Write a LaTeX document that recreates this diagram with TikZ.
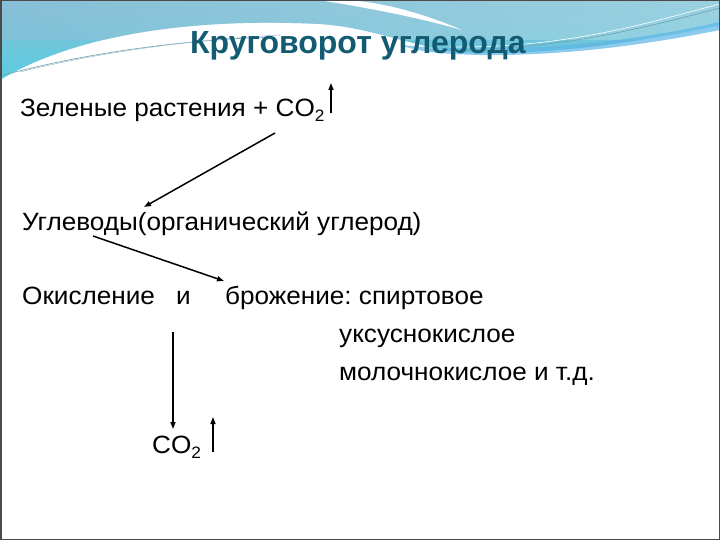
\documentclass[tikz,border=0pt]{standalone}
\usepackage{fontspec}
\setmainfont{Liberation Sans}
\newfontfamily\bodyfont[FakeStretch=1.045]{Liberation Sans}
\usetikzlibrary{arrows.meta}
\definecolor{titleC}{HTML}{135B72}
\definecolor{bluL}{HTML}{88BFD6}
\definecolor{bluR}{HTML}{A9DCE7}
\definecolor{cyanC}{HTML}{58CCE0}
\definecolor{lineC}{HTML}{6E9FB4}
\definecolor{frameC}{HTML}{4A4A4A}
\frenchspacing
\tikzset{
  body/.style={anchor=base west, inner sep=0pt, font=\bodyfont\fontsize{25}{29}\selectfont},
  ttl/.style={anchor=base west, inner sep=0pt, font=\fontsize{32}{36}\selectfont\bfseries, text=titleC},
  arr/.style={line width=1.5pt, -{Triangle[length=7pt,width=5pt]}},
}
\newcommand{\subtwo}{\raisebox{-5pt}{\fontsize{16.5}{16.5}\selectfont 2}}
\begin{document}
\begin{tikzpicture}[x=1pt,y=-1pt]
\useasboundingbox (0,0) rectangle (720,540);
\fill[white] (0,0) rectangle (720,540);
% header wave
\begin{scope}
\clip (0,0) -- (720,0) -- (720,25) .. controls (640,42) and (560,54) .. (480,53)
  .. controls (420,52) and (380,28) .. (320,24) .. controls (200,18) and (80,32) .. (0,80) -- cycle;
\shade[top color=bluL, bottom color=cyanC] (0,0) rectangle (720,82);
\shade[left color=bluL, right color=bluR, opacity=0.6] (0,0) rectangle (720,40);
\end{scope}
% cyan band on right
\fill[cyanC!85!blue!90, opacity=0.7] (400,45) .. controls (520,56) and (640,40) .. (720,22)
  -- (720,30) .. controls (640,46) and (560,56) .. (480,55) .. controls (440,54) and (420,52) .. (400,45) -- cycle;
% white streak
\fill[white] (318,0) .. controls (370,8) and (420,18) .. (462,30)
  .. controls (425,14) and (385,3) .. (350,0) -- cycle;
% thin lines
\draw[lineC, line width=0.6pt] (0,76) .. controls (80,54) and (180,40) .. (270,37);
\draw[lineC!70, line width=0.5pt] (20,72) .. controls (100,52) and (190,40) .. (280,35);
\draw[lineC, line width=0.6pt] (430,50) .. controls (560,52) and (650,26) .. (720,8);
\draw[white, line width=0.6pt] (450,47) .. controls (570,48) and (650,22) .. (720,4);
% frame
\draw[frameC, line width=1.5pt] (0.75,0.75) rectangle (719.25,539.25);

% title
\node[ttl] (title) at (190,54) {Круговорот углерода};

% texts
\node[body] (green) at (20,117) {Зеленые растения + CO\subtwo};
\node[body] (carb) at (22,230) {Углеводы(органический углерод)};
\node[body] (oxid) at (22,304) {Окисление};
\node[body] (and) at (176,304) {и};
\node[body] (ferm) at (225,304) {брожение: спиртовое};
\node[body] (acet) at (339,342) {уксуснокислое};
\node[body] (lact) at (339,380) {молочнокислое и т.д.};
\node[body] (co2) at (152,453) {CO\subtwo};

% arrow end points
\coordinate (u1a) at (331,113);
\coordinate (u1b) at (331,83);
\coordinate (d1a) at (275,133);
\coordinate (d1b) at (144,207);
\coordinate (d2a) at (93,236);
\coordinate (d2b) at (224,281);
\coordinate (v1a) at (173,332);
\coordinate (v1b) at (173,429);
\coordinate (u2a) at (213,452);
\coordinate (u2b) at (213,417);

\draw[arr] (u1a) -- (u1b);
\draw[arr] (d1a) -- (d1b);
\draw[arr] (d2a) -- (d2b);
\draw[arr] (v1a) -- (v1b);
\draw[arr] (u2a) -- (u2b);
\end{tikzpicture}
\end{document}
